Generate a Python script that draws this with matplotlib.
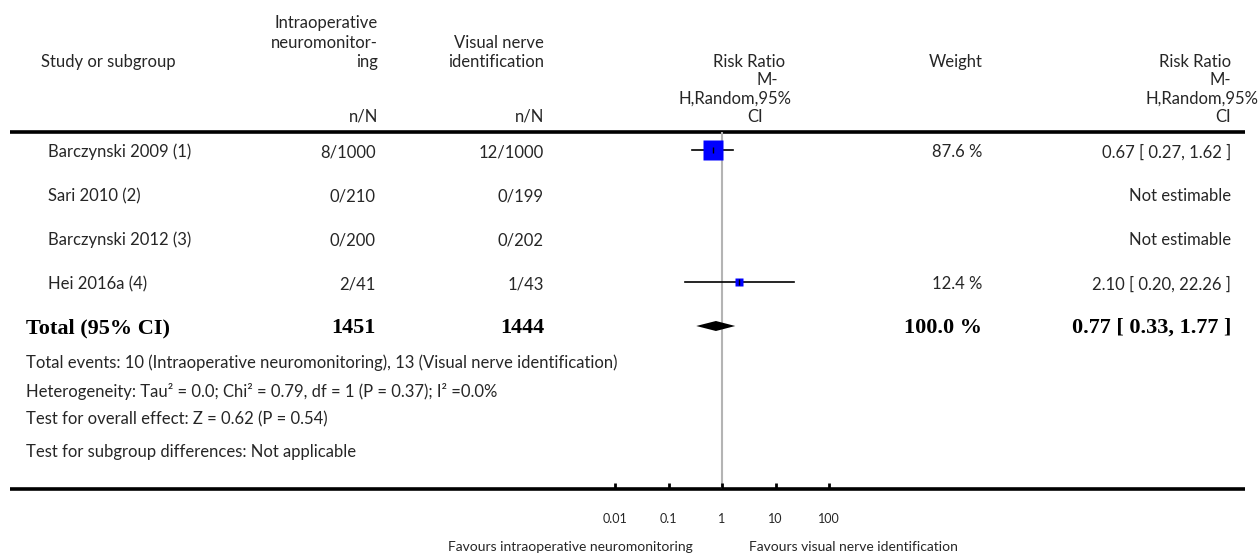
import matplotlib
matplotlib.use("Agg")
import matplotlib.pyplot as plt
import numpy as np

# ---------------- data ----------------
studies = ["Barczynski 2009 (1)", "Sari 2010 (2)", "Barczynski 2012 (3)", "Hei 2016a (4)"]
ionm_events = [8, 0, 0, 2]
ionm_total = [1000, 210, 200, 41]
vni_events = [12, 0, 0, 1]
vni_total = [1000, 199, 202, 43]
rr = [0.67, np.nan, np.nan, 2.10]
rr_lo = [0.27, np.nan, np.nan, 0.20]
rr_hi = [1.62, np.nan, np.nan, 22.26]
weights = [87.6, np.nan, np.nan, 12.4]

total_ionm = 1451
total_vni = 1444
total_weight = 100.0
total_rr = 0.77
total_lo = 0.33
total_hi = 1.77

footer_lines = [
    "Total events: 10 (Intraoperative neuromonitoring), 13 (Visual nerve identification)",
    "Heterogeneity: Tau\u00b2 = 0.0; Chi\u00b2 = 0.79, df = 1 (P = 0.37); I\u00b2 =0.0%",
    "Test for overall effect: Z = 0.62 (P = 0.54)",
    "Test for subgroup differences: Not applicable",
]
tick_values = [0.01, 0.1, 1, 10, 100]
tick_labels = ["0.01", "0.1", "1", "10", "100"]
favours_left = "Favours intraoperative neuromonitoring"
favours_right = "Favours visual nerve identification"

# ---------------- style ----------------
FONT = "Lato"
SERIF = "Liberation Serif"
TXT = "#262626"
FS = 12
W, H = 1259, 555

fig = plt.figure(figsize=(W / 100, H / 100), dpi=100)
ov = fig.add_axes([0, 0, 1, 1])
ov.set_xlim(0, W)
ov.set_ylim(H, 0)
ov.axis("off")


def t(x, y, s, ha="left", bold=False, size=FS, serif=False):
    ov.text(x, y, s, ha=ha, va="center", fontsize=size,
            color="black" if bold else TXT,
            family=SERIF if serif else FONT,
            fontweight="bold" if bold else "normal")


# header
t(41, 62, "Study or subgroup")
t(378, 23, "Intraoperative", ha="right")
t(378, 43, "neuromonitor-", ha="right")
t(378, 62, "ing", ha="right")
t(378, 117, "n/N", ha="right")
t(544, 43, "Visual nerve", ha="right")
t(544, 62, "identification", ha="right")
t(544, 117, "n/N", ha="right")
t(785, 62, "Risk Ratio", ha="right")
t(778, 80, "M-", ha="right")
t(792, 99, "H,Random,95%", ha="right")
t(763, 117, "CI", ha="right")
t(983, 62, "Weight", ha="right")
t(1231, 62, "Risk Ratio", ha="right")
t(1231, 80, "M-", ha="right")
t(1259, 99, "H,Random,95%", ha="right")
t(1231, 117, "CI", ha="right")

# heavy rules
ov.plot([10, 1245], [132, 132], color="black", lw=2.6, solid_capstyle="butt")
ov.plot([10, 1245], [489, 489], color="black", lw=2.6, solid_capstyle="butt")

# rows
row0, step = 150, 44
for i, name in enumerate(studies):
    y = row0 + step * i + 2
    t(48, y, name)
    t(376, y, f"{ionm_events[i]}/{ionm_total[i]}", ha="right")
    t(544, y, f"{vni_events[i]}/{vni_total[i]}", ha="right")
    if np.isnan(rr[i]):
        t(1231, y, "Not estimable", ha="right")
    else:
        t(982, y, f"{weights[i]:.1f} %", ha="right")
        t(1231, y, f"{rr[i]:.2f} [ {rr_lo[i]:.2f}, {rr_hi[i]:.2f} ]", ha="right")

ytot = row0 + step * len(studies) + 2
BS = 16
t(26, ytot, "Total (95% CI)", bold=True, serif=True, size=BS)
t(376, ytot, f"{total_ionm}", ha="right", bold=True, serif=True, size=BS)
t(544, ytot, f"{total_vni}", ha="right", bold=True, serif=True, size=BS)
t(982, ytot, f"{total_weight:.1f} %", ha="right", bold=True, serif=True, size=BS)
t(1231, ytot, f"{total_rr:.2f} [ {total_lo:.2f}, {total_hi:.2f} ]", ha="right",
  bold=True, serif=True, size=BS)

for line, y in zip(footer_lines, [363, 392, 419, 452]):
    t(26, y, line)

t(693, 547, favours_left, ha="right", size=10)
t(749, 547, favours_right, ha="left", size=10)

# ---------------- forest axes ----------------
x0, x1 = 615, 829
ytop, ybot = 132, 489
ax = fig.add_axes([x0 / W, (H - ybot) / H, (x1 - x0) / W, (ybot - ytop) / H])
ax.patch.set_alpha(0)
ax.set_xscale("log")
ax.set_xlim(tick_values[0], tick_values[-1])
ax.set_ylim((ybot - row0) / step, (ytop - row0) / step)
for s in ax.spines.values():
    s.set_visible(False)
ax.set_yticks([])
ax.set_xticks(tick_values)
ax.set_xticklabels(tick_labels, fontsize=9, family=FONT, color=TXT)
ax.xaxis.set_minor_locator(matplotlib.ticker.NullLocator())
ax.tick_params(axis="x", direction="in", length=4.5, width=2, pad=17, color="black")

ax.axvline(1, color="#b4b4b4", lw=1.5, zorder=1)

wmax = np.nanmax(weights)
for i in range(len(studies)):
    if np.isnan(rr[i]):
        continue
    ax.plot([rr_lo[i], rr_hi[i]], [i, i], color="black", lw=1.2, zorder=2, clip_on=False)
    side = 20 * 0.72 * np.sqrt(weights[i] / wmax)
    ax.plot([rr[i]], [i], marker="s", ms=side, color="#0000ff", mec="none", zorder=3)
    ax.plot([rr[i]], [i], marker="|", ms=5, color="black", mew=1, zorder=4)

dh = 5 / step
j = len(studies)
ax.fill([total_lo, total_rr, total_hi, total_rr], [j, j - dh, j, j + dh],
        color="black", lw=0, zorder=3)

fig.savefig("out.png", dpi=100)
